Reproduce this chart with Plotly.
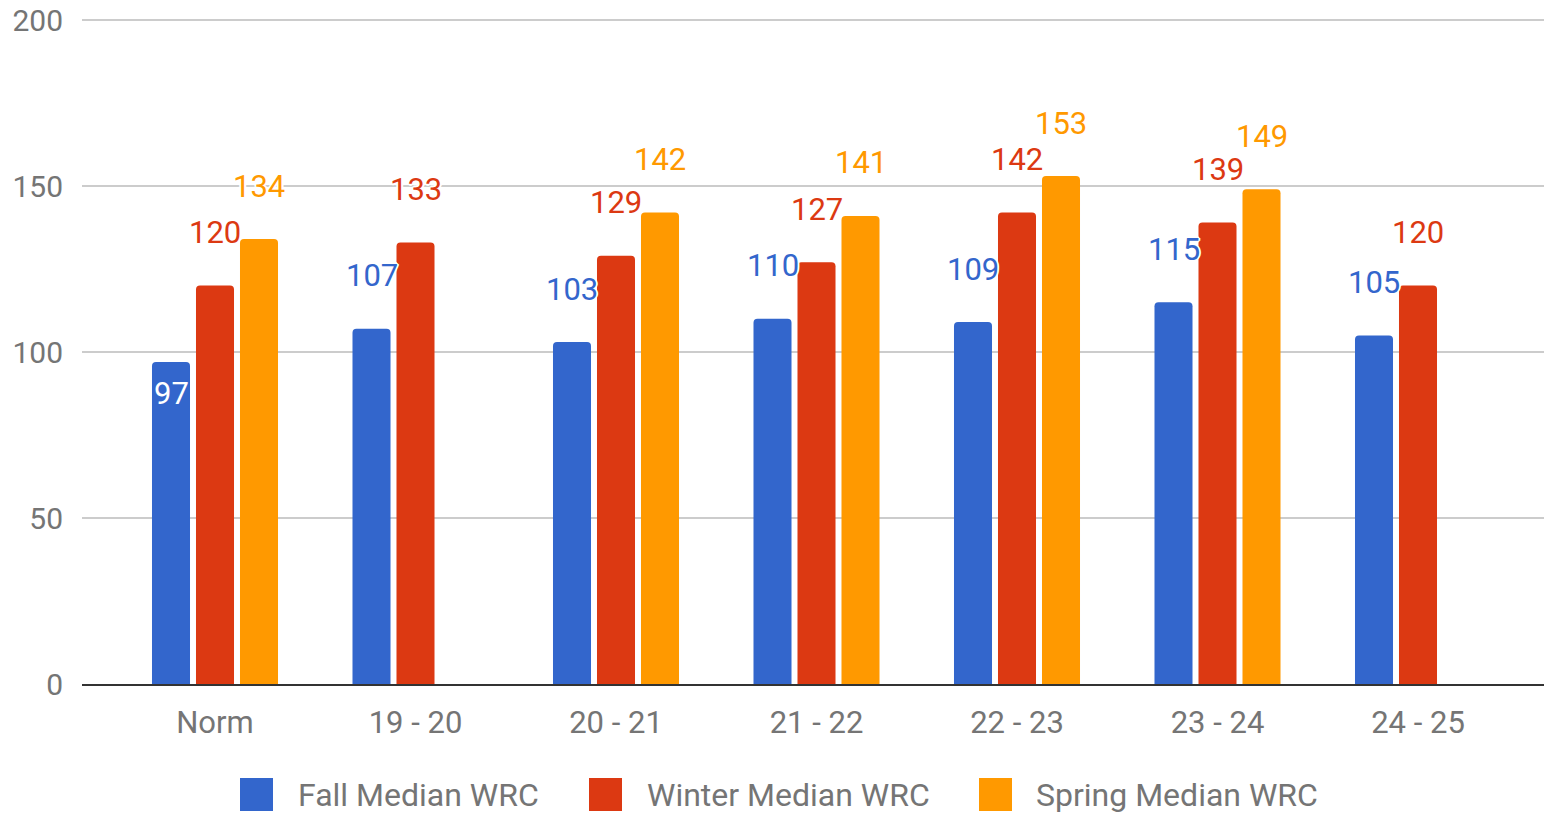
import plotly.graph_objects as go

categories = ["Norm", "19 - 20", "20 - 21", "21 - 22", "22 - 23", "23 - 24", "24 - 25"]
fall = [97, 107, 103, 110, 109, 115, 105]
winter = [120, 133, 129, 127, 142, 139, 120]
spring = [134, None, 142, 141, 153, 149, None]
series_names = ["Fall Median WRC", "Winter Median WRC", "Spring Median WRC"]
y_ticks = [0, 50, 100, 150, 200]

colors = ["#3366CC", "#DC3912", "#FF9900"]
FONT = "Roboto"
W, H = 1544, 813
BASE = 684                # pixel row of value 0
PX_PER_UNIT = 3.32
PH = 667                  # plot height (a little above 200 so the top gridline shows)
ML, MR = 82, 0
MT = BASE - PH
MB = H - BASE
PW = W - ML - MR
Y_TOP = PH / PX_PER_UNIT

fig = go.Figure()
all_series = [fall, winter, spring]
for name, vals, col in zip(series_names, all_series, colors):
    fig.add_trace(go.Bar(
        name=name, x=categories, y=vals,
        marker=dict(color=col, cornerradius=4, line=dict(width=0)),
        showlegend=False, hoverinfo="x+y+name",
    ))

halo = ("2px 0 0 white, -2px 0 0 white, 0 2px 0 white, 0 -2px 0 white, "
        "1px 1px 0 white, -1px -1px 0 white, 1px -1px 0 white, -1px 1px 0 white")

slot_px = 44
label_lift = 53
# the Norm fall label sits inside its bar in the original
inside = {(0, 0): -32}

annotations = []
for k, (vals, col) in enumerate(zip(all_series, colors)):
    for i, (cat, v) in enumerate(zip(categories, vals)):
        if v is None:
            continue
        is_in = (k, i) in inside
        annotations.append(dict(
            x=cat, y=v, xref="x", yref="y", text=str(v), showarrow=False,
            xshift=(k - 1) * slot_px, yshift=inside.get((k, i), label_lift),
            font=dict(family=FONT, size=31, color="white" if is_in else col,
                      shadow="none" if is_in else halo),
            xanchor="center", yanchor="middle",
        ))

# custom legend (large square swatches)
legend_sq = [(240, 273), (589, 622), (979, 1012)]
legend_txt_x = [296, 645, 1034]
sq_top, sq_bot, leg_y = 778, 811, 795


def px2x(px):
    return (px - ML) / PW


def py2y(py):
    return (BASE - py) / PH


shapes = []
for (x0, x1), tx, name, col in zip(legend_sq, legend_txt_x, series_names, colors):
    shapes.append(dict(type="rect", xref="paper", yref="paper",
                       x0=px2x(x0), x1=px2x(x1), y0=py2y(sq_bot), y1=py2y(sq_top),
                       fillcolor=col, line=dict(width=0), layer="above"))
    annotations.append(dict(x=px2x(tx), y=py2y(leg_y), xref="paper", yref="paper",
                            text=name, showarrow=False, xanchor="left", yanchor="middle",
                            font=dict(family=FONT, size=32, color="#757575")))

slot = 200.5
first_c, last_c = 215, 1418
fig.update_layout(
    width=W, height=H, autosize=False,
    margin=dict(l=ML, r=MR, t=MT, b=MB, pad=0),
    paper_bgcolor="white", plot_bgcolor="white",
    barmode="group", bargap=0.3416, bargroupgap=0.136,
    font=dict(family=FONT, size=30, color="#757575"),
    annotations=annotations, shapes=shapes,
    showlegend=False,
    xaxis=dict(
        type="category", range=[-(first_c - ML) / slot, 6 + (W - MR - last_c) / slot],
        showline=True, linecolor="#333333", linewidth=2, showgrid=False,
        ticks="", tickfont=dict(family=FONT, size=31, color="#757575"),
        ticklabelstandoff=10, fixedrange=True,
    ),
    yaxis=dict(
        range=[0, Y_TOP], tickvals=y_ticks, showgrid=True, gridcolor="#cccccc", gridwidth=2,
        zeroline=False, showline=False, ticks="",
        tickfont=dict(family=FONT, size=30, color="#757575"),
        ticklabelstandoff=18, ticklabeloverflow="allow", fixedrange=True,
    ),
)

fig.write_html(
    "out.html",
    config={"displayModeBar": False},
    post_script="document.body.style.margin='0';document.body.style.overflow='hidden';",
)
